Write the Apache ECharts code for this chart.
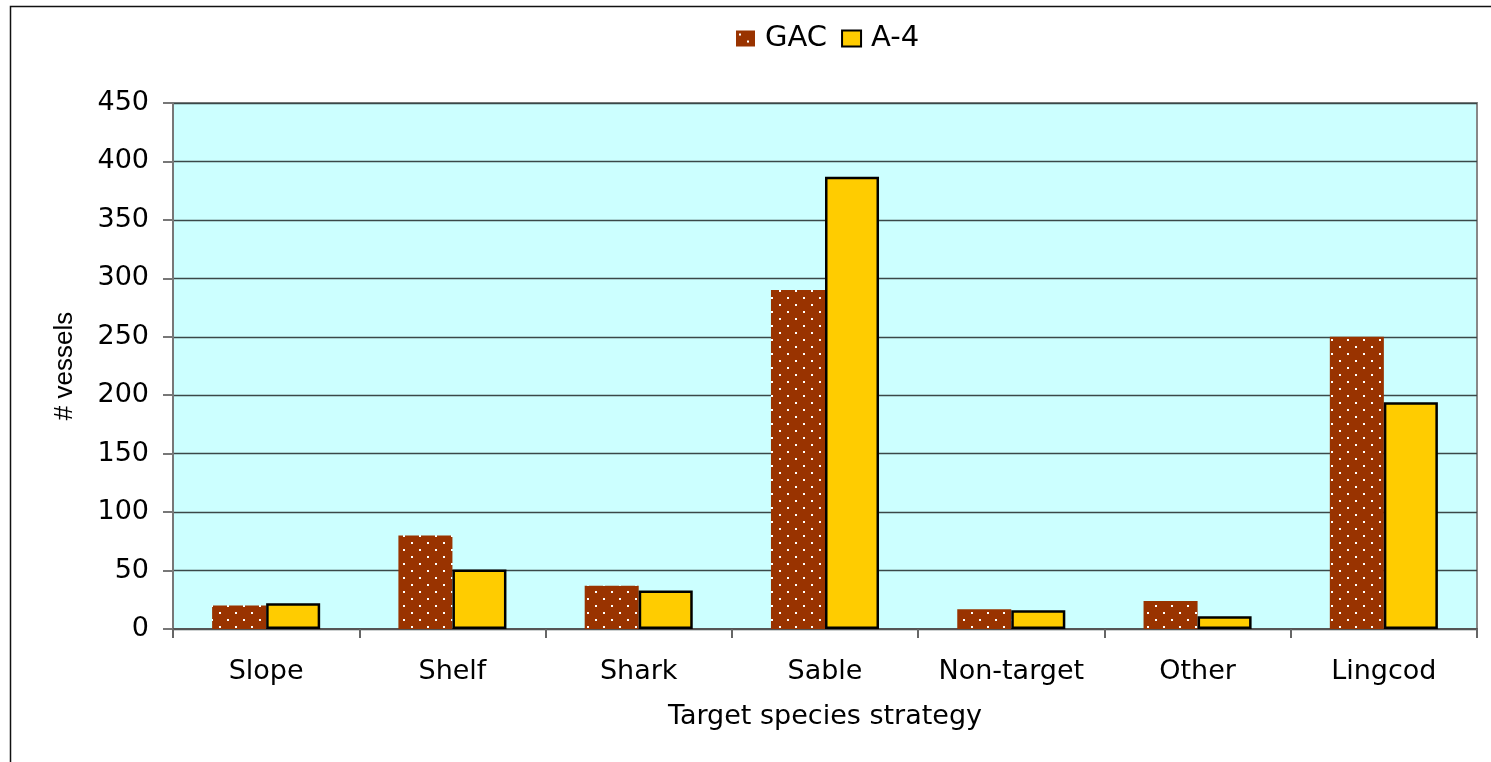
<!DOCTYPE html>
<html>
<head>
<meta charset="utf-8">
<title># vessels by target species strategy</title>
<script src="https://cdn.jsdelivr.net/npm/echarts@6/dist/echarts.min.js"></script>
<style>
  html, body { margin: 0; padding: 0; background: #ffffff; }
  #chart { width: 1491px; height: 762px; }
</style>
</head>
<body>
<div id="chart"></div>
<script>
// Target species strategies and vessel counts per group
const categories = ['Slope', 'Shelf', 'Shark', 'Sable', 'Non-target', 'Other', 'Lingcod'];
const gacValues = [20, 80, 37, 290, 17, 24, 250];
const a4Values = [22, 51, 33, 387, 16, 11, 194];
const seriesNames = ['GAC', 'A-4'];
const yTicks = { min: 0, max: 450, step: 50 };

// Dotted brown fill: white 2px dots on a staggered lattice
function dotPattern() {
  const c = document.createElement('canvas');
  c.width = 16;
  c.height = 14;
  const ctx = c.getContext('2d');
  ctx.fillStyle = '#993300';
  ctx.fillRect(0, 0, 16, 14);
  ctx.fillStyle = '#ffffff';
  ctx.fillRect(3, 3, 2, 2);
  ctx.fillRect(11, 10, 2, 2);
  return c;
}

const textFont = 'DejaVu Sans';
const chart = echarts.init(document.getElementById('chart'), null, { renderer: 'canvas' });

chart.setOption({
  backgroundColor: '#ffffff',
  animation: false,
  graphic: [{
    type: 'rect',
    left: 8, top: 4,
    shape: { width: 1600, height: 900 },
    style: { fill: 'none', stroke: '#111111', lineWidth: 1.5 },
    z: -1
  }],
  legend: {
    data: seriesNames,
    top: 19,
    left: 731,
    icon: 'rect',
    itemWidth: 19,
    itemHeight: 16,
    itemGap: 14,
    textStyle: { fontFamily: textFont, fontSize: 29, color: '#000000', padding: [0, 0, 0, 5] }
  },
  grid: {
    left: 173, top: 103, width: 1304, height: 526,
    show: true,
    backgroundColor: '#ccffff',
    borderColor: '#888888',
    borderWidth: 2
  },
  xAxis: {
    type: 'category',
    data: categories,
    boundaryGap: true,
    name: 'Target species strategy',
    nameLocation: 'middle',
    nameGap: 74,
    nameTextStyle: { fontFamily: textFont, fontSize: 27, color: '#000000' },
    axisLine: { show: true, lineStyle: { color: '#555555', width: 2 } },
    axisTick: { show: true, interval: 0, alignWithLabel: false, length: 9, lineStyle: { color: '#666666', width: 2 } },
    axisLabel: { interval: 0, fontFamily: textFont, fontSize: 27, color: '#000000', margin: 29 },
    splitLine: { show: false }
  },
  yAxis: {
    type: 'value',
    min: yTicks.min,
    max: yTicks.max,
    interval: yTicks.step,
    name: '# vessels',
    nameLocation: 'middle',
    nameGap: 95,
    nameRotate: 90,
    nameTextStyle: { fontFamily: 'Liberation Sans', fontSize: 26, color: '#000000' },
    axisLine: { show: true, lineStyle: { color: '#777777', width: 2 } },
    axisTick: { show: true, inside: false, length: 10, lineStyle: { color: '#777777', width: 2 } },
    axisLabel: { fontFamily: textFont, fontSize: 27, color: '#000000', margin: 24 },
    splitLine: { show: true, lineStyle: { color: '#3a4848', width: 1.3 } }
  },
  series: [
    {
      name: seriesNames[0],
      type: 'bar',
      data: gacValues,
      barGap: '0%',
      barCategoryGap: '42%',
      itemStyle: { color: { image: dotPattern(), repeat: 'repeat' }, borderWidth: 0 }
    },
    {
      name: seriesNames[1],
      type: 'bar',
      data: a4Values,
      itemStyle: { color: '#ffcc00', borderColor: '#000000', borderWidth: 2.5 }
    }
  ]
});
</script>
</body>
</html>
